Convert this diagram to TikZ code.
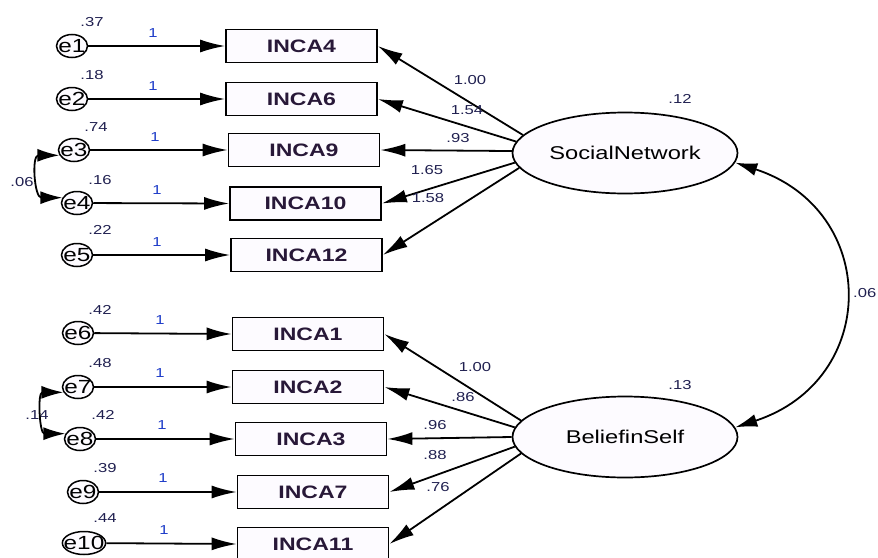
\documentclass[tikz,border=0pt]{standalone}
\usepackage{fontspec}
\setmainfont{Liberation Sans}[FakeStretch=1.28]
\usetikzlibrary{arrows.meta,shapes.geometric}
\definecolor{numc}{RGB}{32,32,80}
\definecolor{onec}{RGB}{30,60,200}
\definecolor{boxt}{RGB}{40,24,56}
\definecolor{fillc}{RGB}{253,251,255}
\begin{document}
\begin{tikzpicture}[x=1pt,y=-1pt,
  obs/.style={draw,line width=1.7pt,fill=fillc,minimum width=151pt,minimum height=33pt,inner sep=0,
    font=\fontsize{18}{18}\selectfont\bfseries,text=boxt},
  err/.style={draw,ellipse,line width=1.5pt,fill=fillc,minimum width=31pt,minimum height=23pt,
    inner xsep=-5pt,inner ysep=-3pt,
    font=\fontsize{19}{19}\selectfont,text=black},
  lat/.style={draw,ellipse,line width=1.7pt,fill=fillc,minimum width=225pt,minimum height=81pt,inner sep=0,
    font=\fontsize{18.5}{18.5}\selectfont,text=black},
  num/.style={font=\fontsize{13}{13}\selectfont,text=numc,inner sep=0},
  one/.style={font=\fontsize{13}{13}\selectfont,text=onec,inner sep=0},
  path/.style={line width=1.8pt,-{Latex[length=25pt,width=13pt]}},
  cov/.style={line width=1.8pt,{Latex[length=22pt,width=13pt]}-{Latex[length=22pt,width=13pt]}}
]
\useasboundingbox (0,0) rectangle (878,557);
% observed
\node[obs] (i4) at (301.5,46) {INCA4};
\node[obs] (i6) at (301.5,99) {INCA6};
\node[obs] (i9) at (304,150) {INCA9};
\node[obs] (i10) at (305.5,203.5) {INCA10};
\node[obs] (i12) at (306.5,255) {INCA12};
\node[obs] (i1) at (308,334) {INCA1};
\node[obs] (i2) at (308,387) {INCA2};
\node[obs] (i3) at (311,439) {INCA3};
\node[obs] (i7) at (313,492) {INCA7};
\node[obs] (i11) at (313,544) {INCA11};
% errors
\node[err] (e1) at (72,46) {e1};
\node[err] (e2) at (72,99) {e2};
\node[err] (e3) at (74,150) {e3};
\node[err] (e4) at (77,203) {e4};
\node[err] (e5) at (77,255) {e5};
\node[err] (e6) at (78,333) {e6};
\node[err] (e7) at (78,387) {e7};
\node[err] (e8) at (80,439) {e8};
\node[err] (e9) at (83,492) {e9};
\node[err] (e10) at (84,543) {e10};
% latents
\node[lat] (SN) at (625,153) {SocialNetwork};
\node[lat] (BS) at (625,437) {BeliefinSelf};
% variances
\node[num] (v1) at (92,22) {.37};
\node[num] (v2) at (92,75) {.18};
\node[num] (v3) at (96,127) {.74};
\node[num] (v4) at (100,180) {.16};
\node[num] (v5) at (100,230) {.22};
\node[num] (v6) at (100,310) {.42};
\node[num] (v7) at (100,363) {.48};
\node[num] (v8) at (103,415) {.42};
\node[num] (v9) at (105,468) {.39};
\node[num] (v10) at (105,518) {.44};
\node[num] (vSN) at (680,99) {.12};
\node[num] (vBS) at (680,385) {.13};
% error paths
\foreach \e/\i in {e1/i4,e2/i6,e3/i9,e4/i10,e5/i12,e6/i1,e7/i2,e8/i3,e9/i7,e10/i11}
  \draw[path] (\e) -- (\i.west);
\node[one] (o1) at (153,33) {1};
\node[one] (o2) at (153,86) {1};
\node[one] (o3) at (155,137) {1};
\node[one] (o4) at (157,190) {1};
\node[one] (o5) at (157,242) {1};
\node[one] (o6) at (160,320) {1};
\node[one] (o7) at (160,373) {1};
\node[one] (o8) at (162,425) {1};
\node[one] (o9) at (163,478) {1};
\node[one] (o10) at (164,530) {1};
% loadings
\draw[path] (SN.170) -- (i4.east);
\draw[path] (SN.174) -- (i6.east);
\draw[path] (SN.179) -- (i9.east);
\draw[path] (SN.185) -- (i10.east);
\draw[path] (SN.188) -- (i12.east);
\draw[path] (BS.171) -- (i1.east);
\draw[path] (BS.175) -- (i2.east);
\draw[path] (BS.180) -- (i3.east);
\draw[path] (BS.185) -- (i7.east);
\draw[path] (BS.189) -- (i11.east);
\node[num] (l4) at (470,80) {1.00};
\node[num] (l6) at (467,110) {1.54};
\node[num] (l9) at (458,138) {.93};
\node[num] (l10) at (427,170) {1.65};
\node[num] (l12) at (428,198) {1.58};
\node[num] (l1) at (475,367) {1.00};
\node[num] (l2) at (463,397) {.86};
\node[num] (l3) at (435,425) {.96};
\node[num] (l7) at (435,455) {.88};
\node[num] (l11) at (438,487) {.76};
% covariances
\node[num] (c34) at (22,182) {.06};
\draw[cov] (e3.200) .. controls ([xshift=-28pt]e3.200) and ([xshift=-28pt]e4.160) .. (e4.160);
\node[num] (c78) at (37,415) {.14};
\draw[cov] (e7.200) .. controls ([xshift=-26pt]e7.200) and ([xshift=-26pt]e8.160) .. (e8.160);
\draw[cov] (SN.355) .. controls (880,210) and (880,380) .. (BS.5);
\node[num,anchor=west] (cSB) at (853,293) {.06};
\end{tikzpicture}
\end{document}
